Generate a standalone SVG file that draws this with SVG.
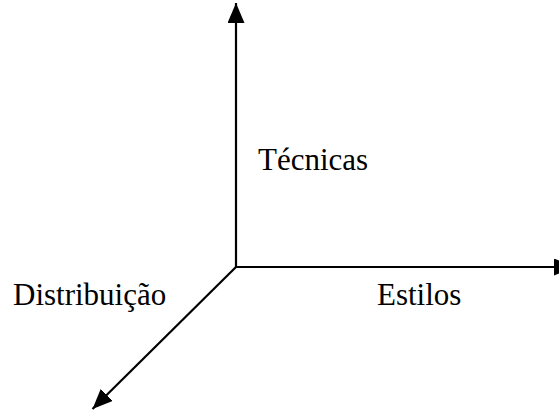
<svg xmlns="http://www.w3.org/2000/svg" width="559" height="410" viewBox="0 0 559 410">
  <style>
    .axis { stroke: #000; stroke-width: 2.2; fill: none; }
    .lbl { font-family: "Liberation Serif", "Times New Roman", serif; font-size: 31px; fill: #000; }
  </style>
  <defs>
    <marker id="arrow" markerUnits="userSpaceOnUse" markerWidth="22" markerHeight="18" refX="20" refY="8.5" orient="auto">
      <path d="M0,0 L20,8.5 L0,17 z" fill="#000"/>
    </marker>
  </defs>
  <rect width="559" height="410" fill="#fff"/>
  <g id="connectors">
    <line class="axis" x1="236" y1="267" x2="236" y2="3" marker-end="url(#arrow)"/>
    <line class="axis" x1="235" y1="267" x2="574" y2="267" marker-end="url(#arrow)"/>
    <line class="axis" x1="236" y1="267" x2="92.5" y2="409" marker-end="url(#arrow)"/>
  </g>
  <g id="tecnicas"><text class="lbl" x="258" y="170">Técnicas</text></g>
  <g id="estilos"><text class="lbl" x="377" y="305">Estilos</text></g>
  <g id="distribuicao"><text class="lbl" x="13" y="305">Distribuição</text></g>
</svg>
